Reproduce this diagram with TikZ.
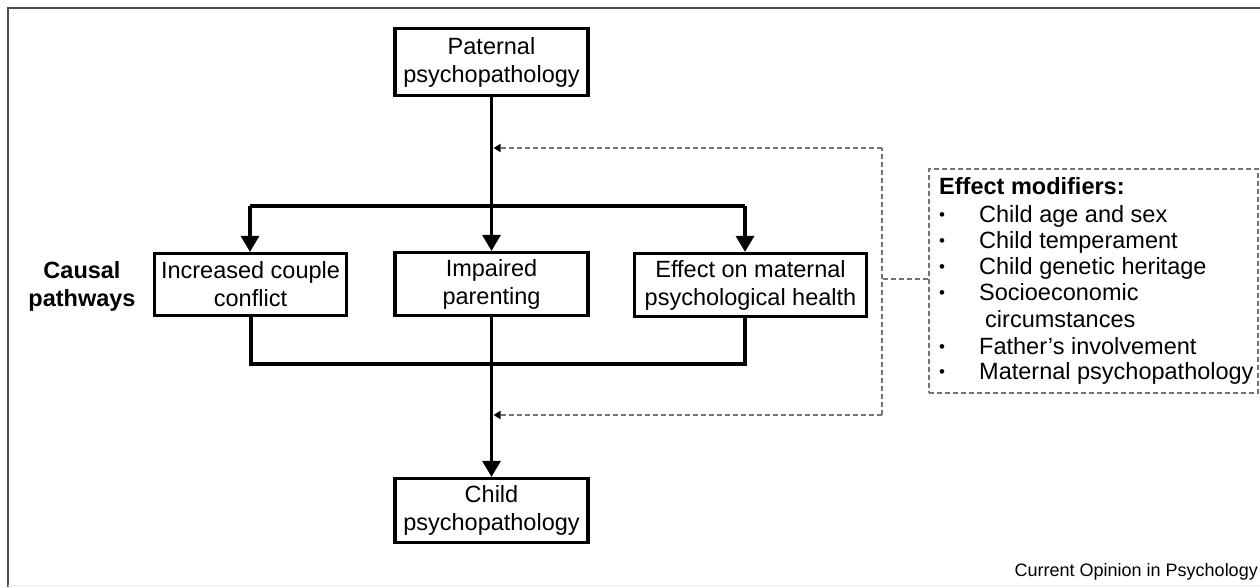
\documentclass[tikz,border=0pt]{standalone}
\usepackage{fontspec}
\setmainfont{Liberation Sans}
\usetikzlibrary{arrows.meta}
\begin{document}
\begin{tikzpicture}[x=1pt,y=-1pt,
  box/.style={draw,line width=3.2pt,minimum width=193pt,minimum height=64pt,align=center,inner sep=0pt,font=\fontsize{23.5}{28}\selectfont},
  heavy/.style={line width=3.2pt},
  harrow/.style={heavy,-{Triangle[length=16pt,width=18pt]}},
  gdash/.style={draw=gray!90!black,line width=1.6pt,dash pattern=on 5pt off 3pt},
  sarrow/.style={-{Triangle[length=7pt,width=8pt,color=black]}},
  txt/.style={font=\fontsize{23.5}{28}\selectfont,inner sep=0pt,anchor=base west},
  bul/.style={font=\fontsize{17}{20}\selectfont,inner sep=0pt,anchor=base west},
  btxt/.style={font=\fontsize{23.5}{28}\selectfont\bfseries,inner sep=0pt,align=center}
]
\useasboundingbox (0,0) rectangle (1260,587);
% frame
\draw[gray!60!black,line width=2pt] (8,587) -- (8,8) -- (1262,8);
\draw[gray!15,line width=1pt] (8,585) -- (1262,585);

% boxes
\node[box,minimum height=67pt] (pat) at (491.5,62) {Paternal\\psychopathology};
\node[box,minimum width=192pt,minimum height=62pt] (icc) at (250.5,284.5) {Increased couple\\conflict};
\node[box,minimum height=63pt] (imp) at (491.5,284) {Impaired\\parenting};
\node[box,minimum width=232pt,minimum height=63pt] (eom) at (750.5,285) {Effect on maternal\\psychological health};
\node[box] (chd) at (491.5,510.5) {Child\\psychopathology};

\node[btxt] (cp) at (82,286) {Causal\\pathways};

% distribution lines
\coordinate (tl) at (250,206);
\coordinate (tr) at (745,206);
\coordinate (bl) at (251,364);
\coordinate (br) at (745,364);
\draw[heavy] (tl) -- (tr);
\draw[harrow] (tl) -- (tl |- icc.north);
\draw[harrow] (tr) -- (tr |- eom.north);
\draw[harrow] (pat.south) -- (imp.north);
\draw[harrow] (imp.south) -- (chd.north);
\draw[heavy] (icc.south -| bl) -- (bl) -- (br) -- (eom.south -| br);

% modifiers box
\node[gdash,minimum width=329pt,minimum height=224pt,anchor=north west,inner sep=0pt] (mod) at (928,168) {};
\node[txt,font=\fontsize{23.5}{28}\selectfont\bfseries] (mh) at (939,194) {Effect modifiers:};
\node[bul] (b1) at (939,220) {•};
\node[txt] (t1) at (979,222) {Child age and sex};
\node[bul] (b2) at (939,246) {•};
\node[txt] (t2) at (979,248) {Child temperament};
\node[bul] (b3) at (939,272) {•};
\node[txt] (t3) at (979,274) {Child genetic heritage};
\node[bul] (b4) at (939,298) {•};
\node[txt] (t4) at (979,300) {Socioeconomic};
\node[txt] (t4b) at (985,327) {circumstances};
\node[bul] (b5) at (939,352) {•};
\node[txt] (t5) at (979,354) {Father’s involvement};
\node[bul] (b6) at (939,377) {•};
\node[txt] (t6) at (979,379) {Maternal psychopathology};

% dashed modifier connectors
\coordinate (ja) at (882,148);
\coordinate (jb) at (882,415);
\coordinate (jm) at (882,279);
\coordinate (ma) at (493.5,148);
\coordinate (mb) at (493.5,415);
\draw[gdash] (mod.west |- jm) -- (jm);
\draw[gdash] (jb) -- (ja);
\draw[gdash,sarrow] (ja) -- (ma);
\draw[gdash,sarrow] (jb) -- (mb);

\node[font=\fontsize{18}{20}\selectfont,inner sep=0pt,anchor=base east] (src) at (1258,576) {Current Opinion in Psychology};
\end{tikzpicture}
\end{document}
